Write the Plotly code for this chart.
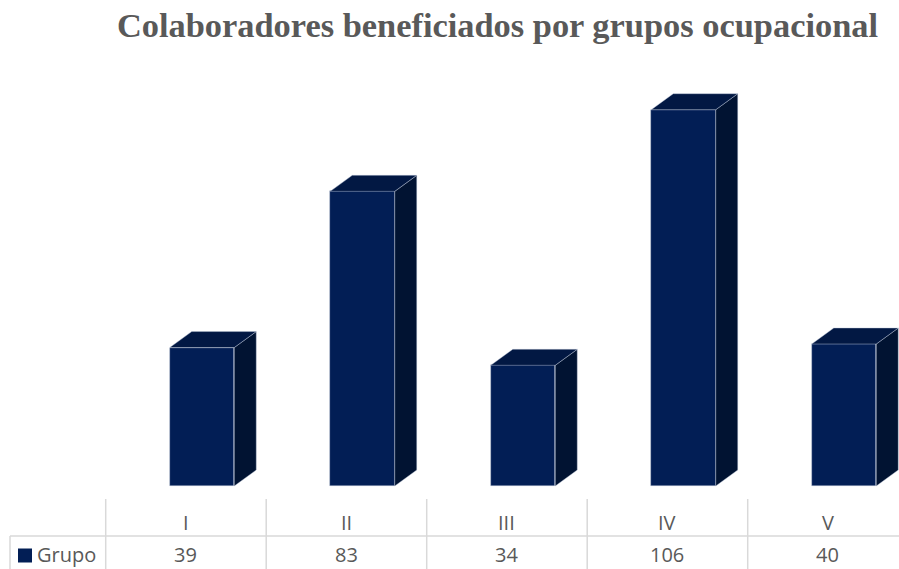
import plotly.graph_objects as go

# ---- data ----
categories = ["I", "II", "III", "IV", "V"]
values = [39, 83, 34, 106, 40]
series_name = "Grupo"
title_text = "Colaboradores beneficiados por grupos ocupacional"

# ---- styling / geometry (pixel-based) ----
W, H = 899, 569
FRONT = "#021E55"
TOP = "#021843"
SIDE = "#011332"
EDGE = "rgba(190,200,220,0.7)"
GRID = "#D9D9D9"
TXT = "#595959"
TABLE_FONT = dict(family="Open Sans", size=20, color=TXT)

px_per_cat = 160.5
x0_px = 202.0           # pixel of category 0 front centre
zero_px = 486.0         # pixel row of value 0
px_per_unit = 3.55

x_min = -x0_px / px_per_cat
x_max = (W - x0_px) / px_per_cat
y_min = -(H - zero_px) / px_per_unit
y_max = zero_px / px_per_unit

bar_w = 64.5 / px_per_cat
dx = 22.0 / px_per_cat
dy = 16.0 / px_per_unit

xs = list(range(len(categories)))

fig = go.Figure()

# side faces
sx, sy = [], []
for x, v in zip(xs, values):
    r = x + bar_w / 2
    sx += [r, r + dx, r + dx, r, r, None]
    sy += [0, dy, v + dy, v, 0, None]
fig.add_trace(go.Scatter(x=sx, y=sy, fill="toself", fillcolor=SIDE, mode="lines",
                         line=dict(color=EDGE, width=0.6), hoverinfo="skip", showlegend=False))
# top faces
tx, ty = [], []
for x, v in zip(xs, values):
    l = x - bar_w / 2
    r = x + bar_w / 2
    tx += [l, l + dx, r + dx, r, l, None]
    ty += [v, v + dy, v + dy, v, v, None]
fig.add_trace(go.Scatter(x=tx, y=ty, fill="toself", fillcolor=TOP, mode="lines",
                         line=dict(color=EDGE, width=0.6), hoverinfo="skip", showlegend=False))
# front faces
fig.add_trace(go.Bar(x=xs, y=values, width=bar_w,
                     marker=dict(color=FRONT, line=dict(color=EDGE, width=0.6)),
                     name=series_name, showlegend=False))

# ---- data table below the chart ----
col_off = -0.1          # column centre relative to category
col_half = 0.5
def ypaper(p):
    return 1 - p / H

row1_px, row2_px = 522.5, 554
hline_px = 536
vtop_px = 499

shapes = []
shapes.append(dict(type="line", xref="paper", yref="paper", x0=10 / W, x1=1.02,
                   y0=ypaper(hline_px), y1=ypaper(hline_px), line=dict(color=GRID, width=1.5)))
shapes.append(dict(type="line", xref="paper", yref="paper", x0=10 / W, x1=10 / W,
                   y0=ypaper(hline_px), y1=-0.02, line=dict(color=GRID, width=1.5)))
for i in range(len(categories) + 1):
    xb = i + col_off - col_half
    shapes.append(dict(type="line", xref="x", yref="paper", x0=xb, x1=xb,
                       y0=ypaper(vtop_px), y1=-0.02, line=dict(color=GRID, width=1.5)))
# legend key square
shapes.append(dict(type="rect", xref="paper", yref="paper", x0=18 / W, x1=32 / W,
                   y0=ypaper(562.5), y1=ypaper(548.5), fillcolor=FRONT, line=dict(width=0)))

annotations = []
for i, (c, v) in enumerate(zip(categories, values)):
    annotations.append(dict(x=i + col_off, y=ypaper(row1_px), xref="x", yref="paper", text=c,
                            xanchor="center", yanchor="middle", showarrow=False, font=TABLE_FONT))
    annotations.append(dict(x=i + col_off, y=ypaper(row2_px), xref="x", yref="paper", text=str(v),
                            xanchor="center", yanchor="middle", showarrow=False, font=TABLE_FONT))
annotations.append(dict(x=35 / W, y=ypaper(row2_px), xref="paper", yref="paper", text=series_name,
                        xanchor="left", yanchor="middle", showarrow=False, font=TABLE_FONT))

fig.update_layout(
    width=W, height=H,
    margin=dict(l=0, r=0, t=0, b=0),
    paper_bgcolor="white", plot_bgcolor="white",
    title=dict(text="<b>" + title_text + "</b>", x=497.5 / W, xanchor="center",
               y=1 - 25 / H, yanchor="middle",
               font=dict(family="Liberation Serif", size=34.4, color=TXT)),
    xaxis=dict(range=[x_min, x_max], visible=False, fixedrange=True),
    yaxis=dict(range=[y_min, y_max], visible=False, fixedrange=True),
    shapes=shapes, annotations=annotations,
    showlegend=False, bargap=0,
)

fig.write_html("out.html", config={"displayModeBar": False},
               post_script="document.body.style.margin='0';document.body.style.overflow='hidden';")
